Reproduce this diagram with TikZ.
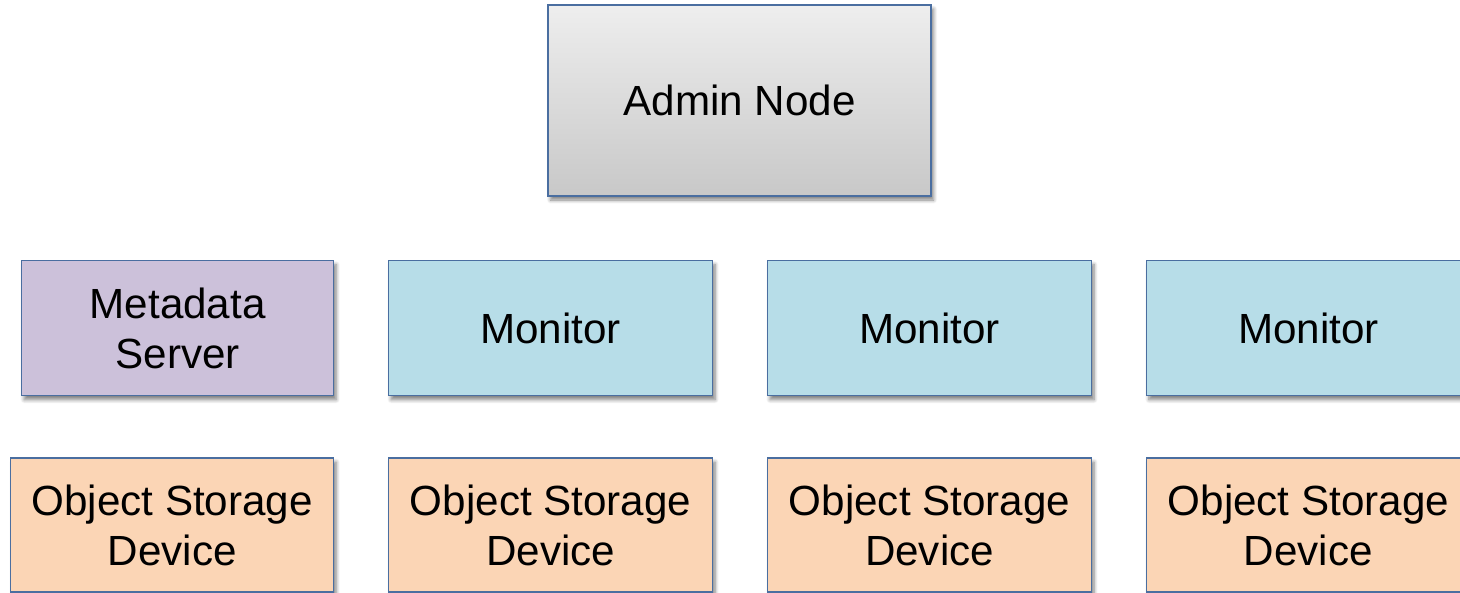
\documentclass[tikz,border=0pt]{standalone}
\usepackage{fontspec}
\setmainfont{Liberation Sans}
\usepackage{xcolor}
\definecolor{boxline}{RGB}{74,110,160}
\definecolor{adminhi}{RGB}{238,238,238}
\definecolor{adminlo}{RGB}{200,200,200}
\definecolor{mdsfill}{RGB}{204,193,218}
\definecolor{monfill}{RGB}{183,221,232}
\definecolor{osdfill}{RGB}{251,213,181}
\usetikzlibrary{positioning,shadows.blur}

\begin{document}
\begin{tikzpicture}[
      box/.style={draw=boxline, line width=0.8pt,
                  minimum width=6.48cm, minimum height=2.7cm,
                  inner sep=0pt, align=center,
                  font=\fontsize{24}{28.5}\selectfont,
                  blur shadow={shadow xshift=0.05cm, shadow yshift=-0.08cm,
                               shadow blur steps=6, shadow opacity=50}},
      admin/.style={box, top color=adminhi, bottom color=adminlo,
                    minimum width=7.66cm, minimum height=3.82cm},
      mds/.style={box, fill=mdsfill, minimum width=6.24cm},
      mon/.style={box, fill=monfill},
      osd/.style={box, fill=osdfill, minimum height=2.68cm}
  ]
    \useasboundingbox (0,0) rectangle (29.2,-11.86);
    \clip (0,0) rectangle (29.2,-11.86);
    % top of the cluster
    \node[admin] (adm) at (14.79,-2.01) {Admin Node};
    % metadata server and monitors
    \node[mds, anchor=north west] (mds) at (0.42,-5.2) {Metadata\\Server};
    \node[mon, right=1.07cm of mds] (mon1) {Monitor};
    \node[mon, right=1.07cm of mon1] (mon2) {Monitor};
    \node[mon, right=1.07cm of mon2] (mon3) {Monitor};
    % storage devices
    \node[osd, minimum width=6.46cm, below left=1.22cm and 0cm of mds.south east] (osd1) {Object Storage\\Device};
    \foreach \i in {1,2,3}{
      \pgfmathtruncatemacro{\j}{\i+1}
      \node[osd, below=1.22cm of mon\i] (osd\j) {Object Storage\\Device};
    }
\end{tikzpicture}
\end{document}
